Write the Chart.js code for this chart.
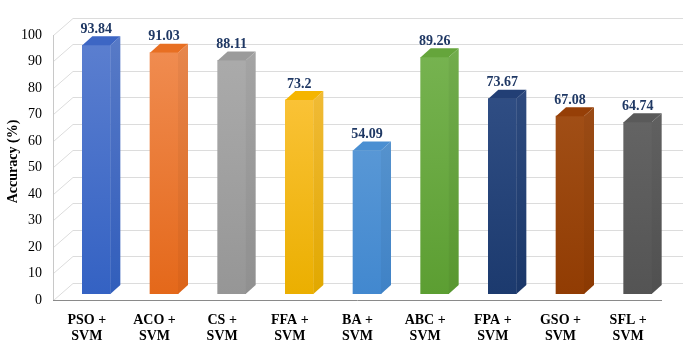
<!DOCTYPE html>
<html><head><meta charset="utf-8">
<script src="https://cdn.jsdelivr.net/npm/chart.js@4"></script>
<style>html,body{margin:0;padding:0;background:#fff}#wrap{width:685px;height:345px}</style>
</head><body><div id="wrap"><canvas id="c" width="685" height="345"></canvas></div>
<script>
const categories = [["PSO +","SVM"],["ACO +","SVM"],["CS +","SVM"],["FFA +","SVM"],["BA +","SVM"],["ABC +","SVM"],["FPA +","SVM"],["GSO +","SVM"],["SFL +","SVM"]];
const accuracy = [93.84, 91.03, 88.11, 73.2, 54.09, 89.26, 73.67, 67.08, 64.74];
const yMin = 0, yMax = 100, yStep = 10;
const topColors = ['#5d80d0','#f18f55','#adadad','#ffc94a','#6ba4db','#79b553','#36548b','#a8571f','#6c6c6c'];
const bottomColors = ['#3462c3','#e4681a','#969696','#ebaf00','#4288cf','#5c9e32','#1c3a6e','#913c03','#545454'];
const capColors = ['#3d66c4','#e86f22','#9b9b9b','#f5b500','#4a8fd2','#65a53b','#223f75','#963f07','#5a5a5a'];
const FONT = "'Liberation Serif','Times New Roman',serif";
const DX = 10, DY = 9;

function frontGrad(ctx, area, i){
  const g = ctx.createLinearGradient(0, area.top, 0, area.bottom);
  g.addColorStop(0, topColors[i]);
  g.addColorStop(1, bottomColors[i]);
  return g;
}

const wallPlugin = {
  id: 'walls',
  beforeDatasetsDraw(chart){
    const ctx = chart.ctx, y = chart.scales.y, a = chart.chartArea;
    const fx0 = 53, fx1 = 662, bx0 = 73, bx1 = 683;
    ctx.save();
    ctx.lineWidth = 1;
    ctx.strokeStyle = '#dcdcdc';
    for (let v = yMin; v <= yMax; v += yStep){
      const p = y.getPixelForValue(v);
      const fy = Math.round(p + 6) + 0.5, by = Math.round(p - 11) + 0.5;
      ctx.beginPath(); ctx.moveTo(bx0, by); ctx.lineTo(bx1, by); ctx.stroke();
      ctx.beginPath(); ctx.moveTo(fx0 + 0.5, fy); ctx.lineTo(bx0, by); ctx.stroke();
    }
    const top = Math.round(y.getPixelForValue(yMax) + 6), bot = Math.round(y.getPixelForValue(yMin) + 6);
    ctx.strokeStyle = '#c8c8c8';
    ctx.beginPath(); ctx.moveTo(fx0 + 0.5, top); ctx.lineTo(fx0 + 0.5, bot); ctx.stroke();
    ctx.strokeStyle = '#8a8a8a';
    ctx.beginPath(); ctx.moveTo(fx0, bot + 0.5); ctx.lineTo(fx1, bot + 0.5); ctx.stroke();
    ctx.restore();
  }
};

const bar3dPlugin = {
  id: 'bar3d',
  afterDatasetsDraw(chart){
    const ctx = chart.ctx, a = chart.chartArea;
    const meta = chart.getDatasetMeta(0);
    ctx.save();
    meta.data.forEach((bar, i) => {
      const w = bar.width, l = bar.x - w/2, r = bar.x + w/2, t = bar.y, b = bar.base;
      // side face
      const sg = ctx.createLinearGradient(0, a.top, 0, a.bottom);
      sg.addColorStop(0, topColors[i]); sg.addColorStop(1, bottomColors[i]);
      ctx.fillStyle = sg;
      ctx.beginPath(); ctx.moveTo(r, t); ctx.lineTo(r + DX, t - DY); ctx.lineTo(r + DX, b - DY); ctx.lineTo(r, b); ctx.closePath(); ctx.fill();
      ctx.fillStyle = 'rgba(0,0,0,0.04)'; ctx.fill();
      // top face
      ctx.fillStyle = capColors[i];
      ctx.beginPath(); ctx.moveTo(l, t); ctx.lineTo(l + DX, t - DY); ctx.lineTo(r + DX, t - DY); ctx.lineTo(r, t); ctx.closePath(); ctx.fill();
      // label
      ctx.fillStyle = '#1f3864';
      ctx.font = 'bold 14px ' + FONT;
      ctx.textAlign = 'center'; ctx.textBaseline = 'middle';
      ctx.fillText(String(accuracy[i]), bar.x, t - 16);
    });
    ctx.restore();
  }
};

new Chart(document.getElementById('c'), {
  type: 'bar',
  data: {
    labels: categories,
    datasets: [{
      data: accuracy,
      backgroundColor: c => c.chart.chartArea ? frontGrad(c.chart.ctx, c.chart.chartArea, c.dataIndex) : topColors[c.dataIndex],
      borderWidth: 0,
      barThickness: 28
    }]
  },
  options: {
    responsive: false,
    animation: false,
    devicePixelRatio: 1,
    layout: { padding: { top: 12.7, right: 13.5, left: 0, bottom: 0 } },
    plugins: { legend: { display: false }, tooltip: { enabled: false } },
    scales: {
      x: {
        grid: { display: false, drawTicks: false },
        border: { display: false },
        ticks: { color: '#000', font: { family: FONT, size: 14, weight: 'bold', lineHeight: 16/14 }, padding: 18, labelOffset: -9.5, maxRotation: 0, autoSkip: false },
        afterFit: s => { s.height = 51; }
      },
      y: {
        min: yMin, max: yMax,
        grid: { display: false, drawTicks: false },
        border: { display: false },
        ticks: { stepSize: yStep, color: '#000', font: { family: FONT, size: 14 }, padding: 20.5, labelOffset: 6 },
        title: { display: true, text: 'Accuracy (%)', color: '#000', font: { family: FONT, size: 14, weight: 'bold' }, padding: { top: 4.6, bottom: 0 } },
        afterFit: s => { s.width = 62.5; }
      }
    }
  },
  plugins: [wallPlugin, bar3dPlugin]
});
</script></body></html>
